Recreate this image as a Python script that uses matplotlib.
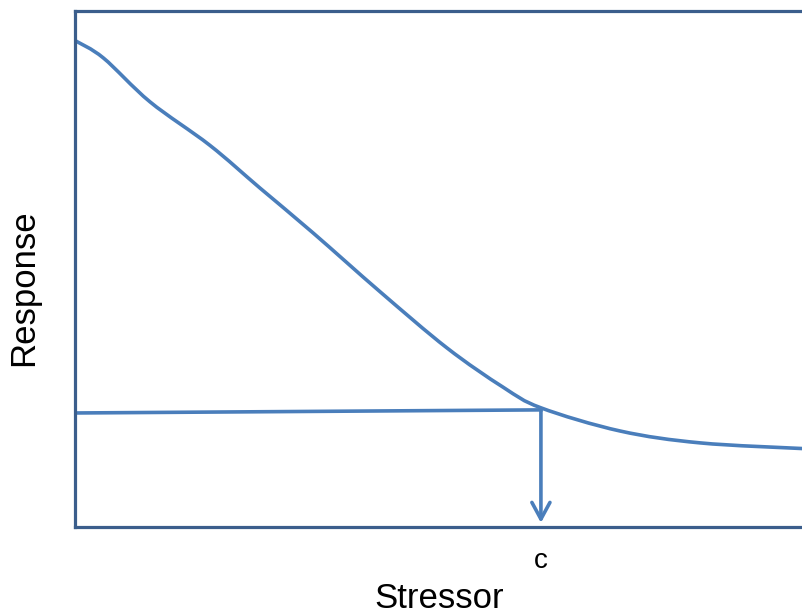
"""
Conceptual stressor-response curve with threshold marker c
"""
import matplotlib.pyplot as plt
from matplotlib.path import Path
from matplotlib.patches import PathPatch

plt.rcParams["font.family"] = ["Liberation Sans", "DejaVu Sans"]

# curve (arbitrary units, 0..10 on both axes)
stressor = [0.01, 0.39, 1.03, 1.85, 2.54, 3.27, 4.19, 5.11, 5.88, 6.40,
            7.49, 8.59, 10.0]
response = [9.41, 9.08, 8.23, 7.39, 6.56, 5.69, 4.55, 3.46, 2.70, 2.30,
            1.85, 1.62, 1.51]

# threshold guide line and arrow
guide_x = [0.0, 6.40]
guide_y = [2.20, 2.26]
arrow_end = 0.07
threshold_label = "c"

curve_color = "#4a7ebb"
frame_color = "#3b5e8c"


def smooth_path(xs, ys):
    # smoothed line like a spreadsheet chart: bezier segments through the points
    verts = [(xs[0], ys[0])]
    codes = [Path.MOVETO]
    n = len(xs)
    for i in range(n - 1):
        x0, y0 = xs[max(i - 1, 0)], ys[max(i - 1, 0)]
        x1, y1 = xs[i], ys[i]
        x2, y2 = xs[i + 1], ys[i + 1]
        x3, y3 = xs[min(i + 2, n - 1)], ys[min(i + 2, n - 1)]
        c1 = (x1 + (x2 - x0) / 6, y1 + (y2 - y0) / 6)
        c2 = (x2 - (x3 - x1) / 6, y2 - (y3 - y1) / 6)
        verts += [c1, c2, (x2, y2)]
        codes += [Path.CURVE4] * 3
    return Path(verts, codes)


fig = plt.figure(figsize=(8.03, 6.15), dpi=100)
ax = fig.add_axes([75 / 803, 1 - 526.5 / 615, 1 - 75 / 803, (526.5 - 10.5) / 615])

ax.add_patch(PathPatch(smooth_path(stressor, response), facecolor="none",
                       edgecolor=curve_color, lw=2.6))
ax.plot(guide_x, guide_y, color=curve_color, lw=2.6)
ax.annotate("", xy=(guide_x[1], arrow_end), xytext=(guide_x[1], guide_y[1]),
            arrowprops=dict(arrowstyle="->,head_length=1.2,head_width=0.65",
                            color=curve_color, lw=2.6, shrinkA=0, shrinkB=0))

ax.set_xlim(0, 10)
ax.set_ylim(0, 10)
ax.set_xticks([])
ax.set_yticks([])
for side in ["left", "top", "bottom"]:
    ax.spines[side].set_color(frame_color)
    ax.spines[side].set_linewidth(2.3)
ax.spines["right"].set_visible(False)

fig.text(541 / 803, 1 - 568 / 615, threshold_label, fontsize=20,
         ha="center", va="baseline")
fig.text(439 / 803, 0.0, "Stressor", fontsize=25,
         ha="center", va="bottom")
fig.text(24 / 803, 1 - 288 / 615, "Response", fontsize=25, rotation=90,
         ha="center", va="center")

plt.savefig("out.png", dpi=100)
